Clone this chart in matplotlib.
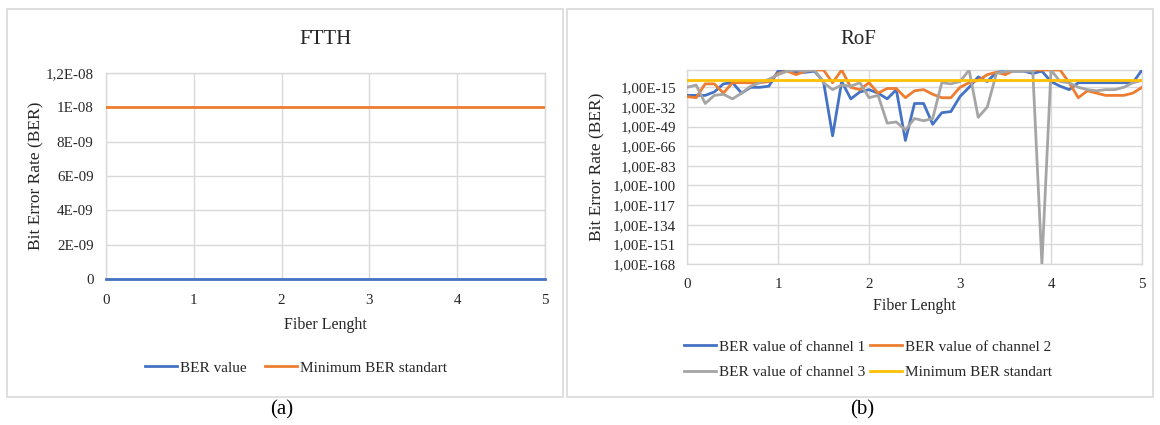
import matplotlib
matplotlib.use("Agg")
import matplotlib.pyplot as plt
from matplotlib.patches import Rectangle
import numpy as np

plt.rcParams['font.family'] = ['Liberation Serif', 'DejaVu Serif']

# ---------------- data ----------------
fiber_length = [round(i * 0.1, 1) for i in range(51)]

# FTTH panel
ftth_ber = [0.0] * 51
ftth_min_standard = [1e-08] * 51
ftth_yticks = [0, 2e-09, 4e-09, 6e-09, 8e-09, 1e-08, 1.2e-08]
ftth_yticklabels = ['0', '2E-09', '4E-09', '6E-09', '8E-09', '1E-08', '1,2E-08']

# RoF panel (BER values)
rof_ch1 = [1e-22, 1e-22, 1e-22, 1e-19, 1e-12, 1e-11, 1e-20, 1e-15, 1e-15, 1e-14,
           1e-1, 1e0, 1e-2, 1e-2, 1e-1, 1e-10, 1e-57, 1e-10, 1e-25, 1e-19,
           1e-17, 1e-20, 1e-25, 1e-17, 1e-61, 1e-29, 1e-29, 1e-47, 1e-37, 1e-36,
           1e-23, 1e-15, 1e-6, 1e-10, 1e-2, 1e-1, 1e-1, 1e-1, 1e-3, 1e-1,
           1e-10, 1e-14, 1e-17, 1e-11, 1e-11, 1e-11, 1e-11, 1e-11, 1e-11, 1e-11,
           1e0]
rof_ch2 = [1e-23, 1e-24, 1e-12, 1e-12, 1e-20, 1e-11, 1e-11, 1e-11, 1e-11, 1e-10,
           1e-3, 1e-1, 1e-4, 1e-1, 1e0, 1e0, 1e-11, 1e0, 1e-15, 1e-17,
           1e-11, 1e-20, 1e-16, 1e-16, 1e-24, 1e-18, 1e-17, 1e-21, 1e-24, 1e-24,
           1e-15, 1e-11, 1e-9, 1e-4, 1e-2, 1e-4, 1e0, 1e0, 1e0, 1e0,
           1e0, 1e0, 1e-11, 1e-24, 1e-18, 1e-20, 1e-22, 1e-22, 1e-22, 1e-20,
           1e-15]
rof_ch3 = [1e-15, 1e-13, 1e-29, 1e-22, 1e-21, 1e-25, 1e-20, 1e-14, 1e-11, 1e-8,
           1e-4, 1e-1, 1e0, 1e-1, 1e0, 1e-11, 1e-17, 1e-13, 1e-14, 1e-11,
           1e-24, 1e-22, 1e-46, 1e-45, 1e-52, 1e-42, 1e-44, 1e-42, 1e-11, 1e-12,
           1e-10, 1e0, 1e-41, 1e-32, 1e-3, 1e-1, 1e-1, 1e-1, 1e-1, 1e-168,
           1e0, 1e-10, 1e-11, 1e-15, 1e-17, 1e-18, 1e-17, 1e-17, 1e-15, 1e-11,
           1e-9]
rof_min_standard = [1e-09] * 51
rof_yticks = [1e-168, 1e-151, 1e-134, 1e-117, 1e-100, 1e-83, 1e-66, 1e-49, 1e-32, 1e-15]
rof_yticklabels = ['1,00E-168', '1,00E-151', '1,00E-134', '1,00E-117', '1,00E-100',
                   '1,00E-83', '1,00E-66', '1,00E-49', '1,00E-32', '1,00E-15']
xticks = [0, 1, 2, 3, 4, 5]

# ---------------- style ----------------
W, H = 1160, 425
BLUE, ORANGE, GRAY, YELLOW = '#4472C4', '#ED7D31', '#A5A5A5', '#FFC000'
GRID = '#D9D9D9'
TXT = '#262626'
LW = 2.0

fig = plt.figure(figsize=(W / 100, H / 100), dpi=100)


def px_axes(x0, x1, y0, y1):
    return fig.add_axes([x0 / W, 1 - y1 / H, (x1 - x0) / W, (y1 - y0) / H])


# chart frames
for (x0, x1) in [(7, 563), (567, 1153)]:
    fig.patches.append(Rectangle((x0 / W, 1 - 397 / H), (x1 - x0) / W, (397 - 9) / H,
                                 transform=fig.transFigure, fill=False,
                                 edgecolor=GRID, linewidth=1.2))


def style(ax):
    ax.grid(True, color=GRID, linewidth=1.0)
    ax.set_axisbelow(True)
    for s in ax.spines.values():
        s.set_color(GRID)
        s.set_linewidth(1.0)
    ax.tick_params(length=0, colors=TXT, labelsize=10.8)
    ax.set_xticks(xticks)
    ax.set_xlim(0, 5)


# ---- FTTH ----
ax1 = px_axes(106, 545, 73, 279)
style(ax1)
ax1.plot(fiber_length, ftth_ber, color=BLUE, lw=LW, label='BER value', clip_on=False, zorder=3)
ax1.plot(fiber_length, ftth_min_standard, color=ORANGE, lw=LW, label='Minimum BER standart', zorder=3)
ax1.set_ylim(0, 1.2e-08)
ax1.set_yticks(ftth_yticks)
ax1.set_yticklabels(ftth_yticklabels)
ax1.tick_params(axis='y', pad=9)
ax1.tick_params(axis='x', pad=11)
ax1.set_ylabel('Bit Error Rate (BER)', fontsize=12.5, color=TXT, labelpad=1)
ax1.set_xlabel('Fiber Lenght', fontsize=11.5, color=TXT, labelpad=7)
fig.text(326 / W, 1 - 40 / H, 'FTTH', ha='center', va='center', fontsize=15, color=TXT)
ax1.legend(loc='center', bbox_to_anchor=(296 / W, 1 - 368 / H), bbox_transform=fig.transFigure,
           ncol=2, frameon=False, fontsize=11, handlelength=2.1, handletextpad=0.2,
           columnspacing=1.2, labelcolor=TXT)

# ---- RoF ----
ax2 = px_axes(687, 1142, 70, 264)
style(ax2)
ax2.set_yscale('log')
l1, = ax2.plot(fiber_length, rof_ch1, color=BLUE, lw=LW, label='BER value of channel 1', zorder=3)
l2, = ax2.plot(fiber_length, rof_ch2, color=ORANGE, lw=LW, label='BER value of channel 2', zorder=3)
l3, = ax2.plot(fiber_length, rof_ch3, color=GRAY, lw=LW, label='BER value of channel 3', zorder=3)
l4, = ax2.plot(fiber_length, rof_min_standard, color=YELLOW, lw=LW, label='Minimum BER standart', zorder=4)
ax2.set_ylim(1e-168, 1e0)
ax2.set_yticks(rof_yticks)
ax2.set_yticklabels(rof_yticklabels)
ax2.yaxis.set_minor_locator(matplotlib.ticker.NullLocator())
ax2.tick_params(axis='y', pad=8)
ax2.tick_params(axis='x', pad=10)
ax2.set_ylabel('Bit Error Rate (BER)', fontsize=12.5, color=TXT, labelpad=5)
ax2.set_xlabel('Fiber Lenght', fontsize=11.5, color=TXT, labelpad=5)
fig.text(858 / W, 1 - 40 / H, 'RoF', ha='center', va='center', fontsize=15, color=TXT)
ax2.legend(handles=[l1, l3, l2, l4], loc='center', bbox_to_anchor=(868 / W, 1 - 359.5 / H),
           bbox_transform=fig.transFigure,
           ncol=2, frameon=False, fontsize=11, handlelength=2.1, handletextpad=0.2,
           columnspacing=0.3, labelspacing=0.75, labelcolor=TXT)

# sub-figure labels
fig.text(282 / W, 1 - 410 / H, '(a)', ha='center', va='center', fontsize=15, color='black')
fig.text(862 / W, 1 - 410 / H, '(b)', ha='center', va='center', fontsize=15, color='black')

fig.savefig('out.png', dpi=100, facecolor='white')
